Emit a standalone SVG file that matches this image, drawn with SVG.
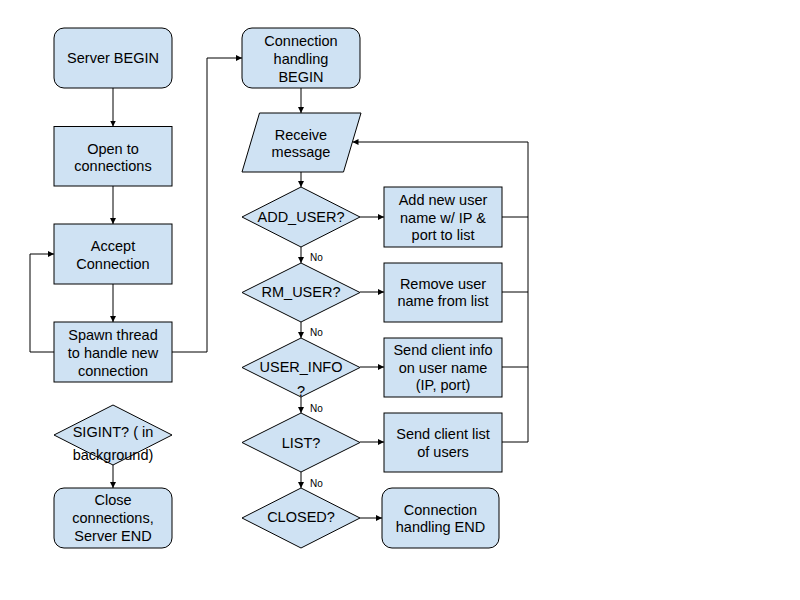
<svg xmlns="http://www.w3.org/2000/svg" width="800" height="600" viewBox="0 0 800 600">
<defs>
<marker id="arr" markerUnits="userSpaceOnUse" markerWidth="8" markerHeight="8" refX="6" refY="3" orient="auto">
<path d="M0,0 L6,3 L0,6 z" fill="#000"/>
</marker>
<style>
.n{fill:#cfe2f3;stroke:#000;stroke-width:1}
.t{font-family:"Liberation Sans",Arial,sans-serif;font-size:14.5px;fill:#000;text-anchor:middle}
.no{font-family:"Liberation Sans",Arial,sans-serif;font-size:10px;fill:#000}
.c{fill:none;stroke:#000;stroke-width:1;marker-end:url(#arr)}
.cl{fill:none;stroke:#000;stroke-width:1}
</style>
</defs>
<rect width="800" height="600" fill="#fff"/>
<g id="connectors">
<path class="c" d="M113,88 V126.5"/>
<path class="c" d="M113,186 V224"/>
<path class="c" d="M113,284 V322"/>
<path class="c" d="M54,352 H30 V254 H54"/>
<path class="c" d="M172,352 H207 V58 H242"/>
<path class="c" d="M113,465 V488"/>
<path class="c" d="M301,88 V113"/>
<path class="c" d="M301,172 V187"/>
<path class="c" d="M301,247 V263"/>
<path class="c" d="M301,322 V338"/>
<path class="c" d="M301,397 V413"/>
<path class="c" d="M301,472 V488"/>
<path class="c" d="M360,217 H384"/>
<path class="c" d="M360,292 H384"/>
<path class="c" d="M360,367 H384"/>
<path class="c" d="M360,442 H384"/>
<path class="c" d="M360,518 H382"/>
<path class="cl" d="M502,217 H528"/>
<path class="cl" d="M502,292 H528"/>
<path class="cl" d="M502,367 H528"/>
<path class="c" d="M502,442 H528 V142 H352.5"/>
<text class="no" x="310" y="261">No</text>
<text class="no" x="310" y="336">No</text>
<text class="no" x="310" y="411.5">No</text>
<text class="no" x="310" y="486.5">No</text>
</g>
<g id="server-begin">
<rect class="n" x="54" y="28" width="118" height="60" rx="10"/>
<text class="t" x="113" y="63">Server BEGIN</text>
</g>
<g id="open">
<rect class="n" x="54" y="126.5" width="118" height="59.5"/>
<text class="t" x="113" y="153.5">Open to</text>
<text class="t" x="113" y="171">connections</text>
</g>
<g id="accept">
<rect class="n" x="54" y="224" width="118" height="60"/>
<text class="t" x="113" y="251">Accept</text>
<text class="t" x="113" y="268.5">Connection</text>
</g>
<g id="spawn">
<rect class="n" x="54" y="322" width="118" height="60"/>
<text class="t" x="113" y="340">Spawn thread</text>
<text class="t" x="113" y="358">to handle new</text>
<text class="t" x="113" y="376">connection</text>
</g>
<g id="sigint">
<polygon class="n" points="113,405 172,435 113,465 54,435"/>
<text class="t" x="113" y="436.7">SIGINT? ( in</text>
<text class="t" x="113" y="460">background)</text>
</g>
<g id="close">
<rect class="n" x="54" y="488" width="118" height="60" rx="10"/>
<text class="t" x="113" y="505">Close</text>
<text class="t" x="113" y="523">connections,</text>
<text class="t" x="113" y="540.5">Server END</text>
</g>
<g id="conn-begin">
<rect class="n" x="242" y="28" width="118" height="60" rx="10"/>
<text class="t" x="301" y="46">Connection</text>
<text class="t" x="301" y="64">handling</text>
<text class="t" x="301" y="82">BEGIN</text>
</g>
<g id="receive">
<polygon class="n" points="259.5,113 361,113 343.5,172 242,172"/>
<text class="t" x="301" y="139.5">Receive</text>
<text class="t" x="301" y="157">message</text>
</g>
<g id="add-user">
<polygon class="n" points="301,187 360,217 301,247 242,217"/>
<text class="t" x="301" y="222">ADD_USER?</text>
</g>
<g id="add-box">
<rect class="n" x="384" y="187" width="118" height="60"/>
<text class="t" x="443" y="205">Add new user</text>
<text class="t" x="443" y="222.5">name w/ IP &amp;</text>
<text class="t" x="443" y="240">port to list</text>
</g>
<g id="rm-user">
<polygon class="n" points="301,263 360,292.5 301,322 242,292.5"/>
<text class="t" x="301" y="297">RM_USER?</text>
</g>
<g id="rm-box">
<rect class="n" x="384" y="263" width="118" height="59"/>
<text class="t" x="443" y="288.5">Remove user</text>
<text class="t" x="443" y="306">name from list</text>
</g>
<g id="user-info">
<polygon class="n" points="301,338 360,367.5 301,397 242,367.5"/>
<text class="t" x="301" y="371.5">USER_INFO</text>
<text class="t" x="301" y="396">?</text>
</g>
<g id="info-box">
<rect class="n" x="384" y="338" width="118" height="59"/>
<text class="t" x="443" y="355">Send client info</text>
<text class="t" x="443" y="372.5">on user name</text>
<text class="t" x="443" y="390">(IP, port)</text>
</g>
<g id="list">
<polygon class="n" points="301,413 360,442.5 301,472 242,442.5"/>
<text class="t" x="301" y="447.5">LIST?</text>
</g>
<g id="list-box">
<rect class="n" x="384" y="413" width="118" height="59"/>
<text class="t" x="443" y="439">Send client list</text>
<text class="t" x="443" y="456.5">of users</text>
</g>
<g id="closed">
<polygon class="n" points="301,488 360,518 301,548 242,518"/>
<text class="t" x="301" y="522">CLOSED?</text>
</g>
<g id="conn-end">
<rect class="n" x="382" y="488" width="117" height="60" rx="10"/>
<text class="t" x="440.5" y="514.5">Connection</text>
<text class="t" x="440.5" y="532">handling END</text>
</g>
</svg>
